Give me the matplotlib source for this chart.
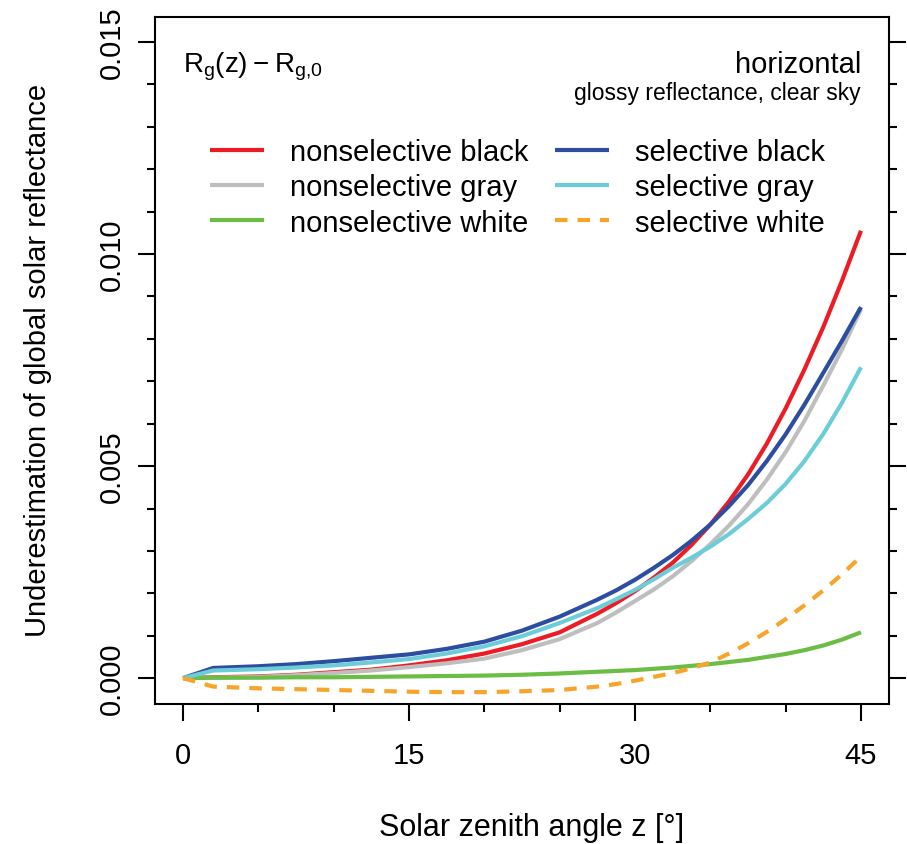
import matplotlib
matplotlib.use("Agg")
import matplotlib.pyplot as plt
from matplotlib.ticker import MultipleLocator

plt.rcParams['font.family'] = ['Liberation Sans', 'DejaVu Sans']
plt.rcParams['mathtext.fontset'] = 'custom'
plt.rcParams['mathtext.rm'] = 'Liberation Sans'

# Solar zenith angle [deg]
zenith = [0, 2, 5, 7.5, 10, 12.5, 15, 17.5, 20, 22.5, 25, 27.5, 28.75, 30,
          31.25, 32.5, 33.75, 35, 36.25, 37.5, 38.75, 40, 41.25, 42.5, 43.75, 45]

# Rg(z) - Rg,0 for each surface type
nonsel_black = [0, 0.00002, 0.00004, 0.00008, 0.00014, 0.00020, 0.00030, 0.00042,
                0.00058, 0.00080, 0.00108, 0.00152, 0.00177, 0.00205,
                0.00237, 0.00272, 0.00314, 0.00362, 0.00417, 0.00480,
                0.00553, 0.00636, 0.00728, 0.00828, 0.00938, 0.01055]
nonsel_gray = [0, 0.00001, 0.00003, 0.00007, 0.00012, 0.00018, 0.00026, 0.00035,
               0.00046, 0.00066, 0.00092, 0.00130, 0.00155, 0.00182,
               0.00209, 0.00240, 0.00276, 0.00316, 0.00360, 0.00410,
               0.00468, 0.00533, 0.00607, 0.00690, 0.00776, 0.00870]
nonsel_white = [0, 0.00001, 0.00001, 0.00002, 0.00002, 0.00003, 0.00004, 0.00005,
                0.00006, 0.00008, 0.00011, 0.00015, 0.00017, 0.00019,
                0.00022, 0.00025, 0.00029, 0.00033, 0.00038, 0.00043,
                0.00050, 0.00057, 0.00066, 0.00077, 0.00091, 0.00108]
sel_black = [0, 0.00024, 0.00028, 0.00033, 0.00040, 0.00048, 0.00056, 0.00069,
             0.00086, 0.00112, 0.00145, 0.00185, 0.00207, 0.00232,
             0.00260, 0.00290, 0.00324, 0.00362, 0.00406, 0.00455,
             0.00512, 0.00575, 0.00645, 0.00720, 0.00796, 0.00875]
sel_gray = [0, 0.00018, 0.00021, 0.00025, 0.00030, 0.00037, 0.00045, 0.00058,
            0.00075, 0.00099, 0.00130, 0.00165, 0.00186, 0.00208,
            0.00233, 0.00260, 0.00284, 0.00310, 0.00340, 0.00375,
            0.00413, 0.00458, 0.00512, 0.00576, 0.00650, 0.00733]
sel_white = [0, -0.00020, -0.00024, -0.00026, -0.00028, -0.00030, -0.00032, -0.00033,
             -0.00033, -0.00031, -0.00028, -0.00020, -0.00014, -0.00006,
             0.00003, 0.00012, 0.00023, 0.00037, 0.00058, 0.00082,
             0.00109, 0.00139, 0.00172, 0.00207, 0.00245, 0.00287]

labels = ["nonselective black", "nonselective gray", "nonselective white",
          "selective black", "selective gray", "selective white"]
x_ticks = [0, 15, 30, 45]
y_ticks = [0.000, 0.005, 0.010, 0.015]

W, H = 907, 845
fig = plt.figure(figsize=(W / 100, H / 100), dpi=100)
ax = fig.add_axes([155 / W, 1 - 705 / H, (889 - 155) / W, (705 - 18) / H])

lw = 3.0
series = [
    (nonsel_black, '#EC1C24', '-'),
    (nonsel_gray, '#BEBEBE', '-'),
    (nonsel_white, '#6BBD45', '-'),
    (sel_black, '#2D4EA0', '-'),
    (sel_gray, '#6CCDD9', '-'),
    (sel_white, '#F8A329', (0, (3, 2.4))),
]
for (vals, col, ls), lab in zip(series, labels):
    ax.plot(zenith, vals, color=col, lw=lw, ls=ls, label=lab,
            solid_capstyle='butt', dash_capstyle='butt', solid_joinstyle='round')

ax.set_xlim(-1.86, 46.86)
ax.set_ylim(-0.00061, 0.01559)

ax.set_xticks(x_ticks)
ax.set_xticklabels([str(t) for t in x_ticks])
ax.xaxis.set_minor_locator(MultipleLocator(5))
ax.set_yticks(y_ticks)
ax.set_yticklabels([f"{t:.3f}" for t in y_ticks], rotation=90, va='center')
ax.yaxis.set_minor_locator(MultipleLocator(0.001))

ax.tick_params(which='major', direction='out', length=12, width=1.5,
               labelsize=21, right=True, labelright=False)
ax.tick_params(which='minor', direction='out', length=6, width=1.5, right=True)
ax.tick_params(axis='x', which='major', pad=15)
ax.tick_params(axis='y', which='major', pad=9)
for s in ax.spines.values():
    s.set_linewidth(1.5)

fig.text(532 / W, 1 - 828 / H, "Solar zenith angle z [°]", ha='center', va='center',
         fontsize=22)
fig.text(38 / W, 1 - 360 / H, "Underestimation of global solar reflectance",
         ha='center', va='center', rotation=90, fontsize=21)

ax.text(0, 0.0143, r"$\mathregular{R_g(z) - R_{g{,}0}}$", fontsize=20,
        ha='left', va='baseline')
ax.text(45, 0.0143, "horizontal", fontsize=21, ha='right', va='baseline')
ax.text(45, 0.01365, "glossy reflectance, clear sky", fontsize=16.5, ha='right',
        va='baseline')

ax.legend(ncol=2, loc='upper left', bbox_to_anchor=(210 / W, 1 - 139 / H),
          bbox_transform=fig.transFigure, frameon=False, fontsize=21,
          handlelength=1.85, handletextpad=0.9, columnspacing=0.9,
          labelspacing=0.25, borderpad=0, borderaxespad=0)

fig.savefig("out.png", dpi=100)
